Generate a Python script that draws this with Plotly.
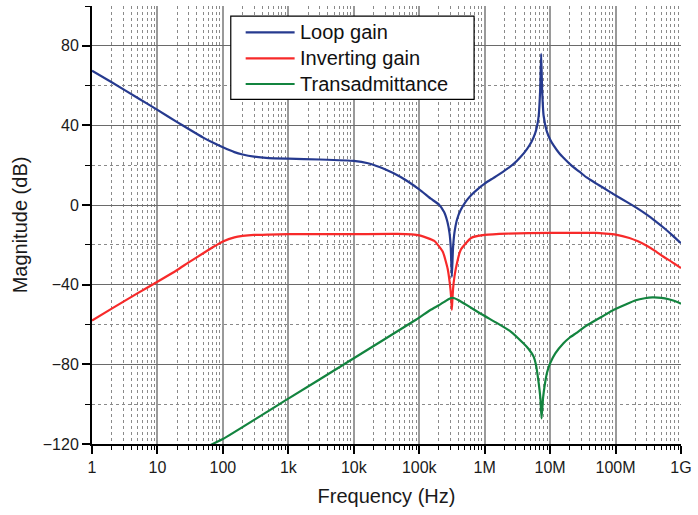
import plotly.graph_objects as go

# ---------------- data ----------------
freq_loop = [1, 2, 5, 10, 20, 30, 50, 70, 100, 150, 200, 300, 500, 1e3, 3e3, 1e4,
             1.65e4, 3e4, 5.2e4, 1e5, 1.5e5, 2e5, 2.4e5, 2.7e5, 2.9e5, 3.03e5, 3.15e5,
             3.28e5, 3.45e5, 3.8e5, 4.3e5, 5.2e5, 6.2e5, 8e5, 1e6, 1.3e6, 1.55e6, 2.2e6,
             2.8e6, 3.5e6, 4.4e6, 5.2e6, 5.9e6, 6.3e6, 6.7e6, 7.05e6, 7.3e6, 7.55e6,
             7.95e6, 8.9e6, 1e7, 1.13e7, 1.4e7, 1.6e7, 2.15e7, 2.8e7, 3.6e7, 5.1e7, 6.5e7,
             1e8, 1.5e8, 2.1e8, 3e8, 4.15e8, 5.5e8, 7.4e8, 1e9]
loop_gain_db = [67.5, 61.7, 53.8, 47.8, 41.7, 38.2, 33.9, 31.4, 29, 26.6, 25.4, 24.3, 23.6, 23.3, 22.9, 22.2,
                21, 18, 14.1, 7.9, 3.2, 0.3, -3.5, -8.5, -14, -21, -36,
                -22, -14, -7, -2.5, 2, 5, 8.3, 10.8, 13.2, 14.8, 18.2,
                20.8, 24, 28, 31.8, 36, 39.5, 45, 58, 76, 58,
                45, 37, 33, 30, 25.8, 23.8, 19.7, 16.8, 13.9, 10.8, 8.7,
                4.9, 1.5, -1.4, -4.8, -8.3, -11.5, -15.2, -19.2]

freq_inv = [1, 2, 5, 10, 20, 30, 50, 70, 100, 150, 200, 300, 500, 1e3, 1e4, 4.7e4, 1e5,
            1.7e5, 2.3e5, 2.72e5, 2.95e5, 3.07e5, 3.15e5, 3.23e5, 3.36e5, 3.6e5, 4.3e5,
            6.2e5, 1e6, 2.2e6, 1e7, 5e7, 7e7, 1e8, 1.63e8, 2.2e8, 2.95e8, 4e8, 5.25e8,
            7.2e8, 1e9]
inv_gain_db = [-58, -52, -44.2, -38.5, -32.6, -28.8, -24.2, -21.2, -18.3, -16.2, -15.5, -15, -14.8,
               -14.6, -14.6, -14.5, -15.2, -18, -23.5, -32, -40, -46, -52.6, -46, -39, -32.4,
               -22.5, -16.5, -15, -14.3, -14, -14, -14.3, -14.8, -16.5, -18.2, -20.3, -23,
               -25.7, -28.5, -31.6]

freq_trans = [65, 100, 1e3, 8.2e3, 8.9e4, 1.5e5, 2e5, 2.5e5, 2.9e5, 3.15e5, 3.45e5, 4e5,
              5.5e5, 8.7e5, 1.55e6, 2.5e6, 3.9e6, 4.7e6, 5.6e6, 6.1e6, 6.6e6, 7.1e6, 7.4e6,
              7.8e6, 8.2e6, 9e6, 1e7, 1.2e7, 1.6e7, 2e7, 2.5e7, 3.5e7, 5.1e7, 7e7, 9.1e7,
              1.4e8, 2.04e8, 2.8e8, 3.65e8, 5e8, 6.5e8, 8e8, 1e9]
trans_db = [-120.5, -117.5, -97.2, -78.7, -57.6, -52.6, -50.3, -48.3, -47, -46.6, -46.8, -47.8,
            -50.5, -54.6, -59.3, -63.5, -69.4, -72.3, -76.1, -80.5, -87.9, -97, -107.2,
            -97, -91.3, -84, -79.5, -74.5, -69.4, -66.5, -64.3, -60.8, -57.6, -55, -52.8,
            -50, -47.8, -46.8, -46.4, -46.6, -47.3, -48.2, -49.5]

series_names = ["Loop gain", "Inverting gain", "Transadmittance"]
series_colors = ["#263a8f", "#f72a2a", "#13843f"]

x_tick_vals = [1, 10, 100, 1e3, 1e4, 1e5, 1e6, 1e7, 1e8, 1e9]
x_tick_text = ["1", "10", "100", "1k", "10k", "100k", "1M", "10M", "100M", "1G"]

FONT = "Liberation Sans, Arial, sans-serif"

fig = go.Figure()
for fx, fy, name, col in zip([freq_loop, freq_inv, freq_trans],
                             [loop_gain_db, inv_gain_db, trans_db],
                             series_names, series_colors):
    fig.add_trace(go.Scatter(x=fx, y=fy, mode="lines", name=name,
                             line=dict(color=col, width=2.2, shape="spline", smoothing=0.4),
                             showlegend=False))

# ------------- legend drawn as a boxed key -------------
lg_x0, lg_x1, lg_y0, lg_y1 = 0.2356, 0.6487, 0.787, 0.977
row_y = [0.940, 0.8806, 0.8219]
fig.add_shape(type="rect", xref="paper", yref="paper", x0=lg_x0, x1=lg_x1, y0=lg_y0, y1=lg_y1,
              line=dict(color="black", width=1.2), fillcolor="white", layer="above")
for name, col, ry in zip(series_names, series_colors, row_y):
    fig.add_shape(type="line", xref="paper", yref="paper", x0=0.2609, x1=0.344, y0=ry, y1=ry,
                  line=dict(color=col, width=2.2), layer="above")
    fig.add_annotation(xref="paper", yref="paper", x=0.350, y=ry, text=name, showarrow=False,
                       xanchor="left", yanchor="middle", font=dict(family=FONT, size=20, color="#111"))

fig.update_layout(
    width=698, height=515,
    margin=dict(l=92, r=13, t=6, b=71),
    paper_bgcolor="white", plot_bgcolor="white",
    font=dict(family=FONT, size=16, color="#1a1a1a"),
)
fig.update_xaxes(
    type="log", range=[0, 9],
    tickvals=x_tick_vals, ticktext=x_tick_text,
    showline=True, linecolor="black", linewidth=2,
    ticks="outside", ticklen=8, tickwidth=1.5, tickcolor="black",
    showgrid=True, gridcolor="#9a9a9a", gridwidth=1.5,
    minor=dict(dtick="D1", ticks="outside", ticklen=4, tickwidth=1.2, tickcolor="black",
               showgrid=True, gridcolor="#8a8a8a", griddash="dot", gridwidth=1),
    title=dict(text="Frequency (Hz)", font=dict(size=20, family=FONT), standoff=14),
    tickfont=dict(size=16, family=FONT),
    zeroline=False,
)
fig.update_yaxes(
    range=[-120, 100], tick0=0, dtick=40,
    showline=True, linecolor="black", linewidth=2,
    ticks="outside", ticklen=8, tickwidth=1.5, tickcolor="black",
    showgrid=True, gridcolor="#6a6a6a", gridwidth=1.2,
    minor=dict(dtick=20, ticks="outside", ticklen=5, tickwidth=1.2, tickcolor="black",
               showgrid=True, gridcolor="#8a8a8a", griddash="dot", gridwidth=1),
    title=dict(text="Magnitude (dB)", font=dict(size=20, family=FONT), standoff=10),
    tickfont=dict(size=16, family=FONT),
    zeroline=False,
)

fig.write_html("out.html")
